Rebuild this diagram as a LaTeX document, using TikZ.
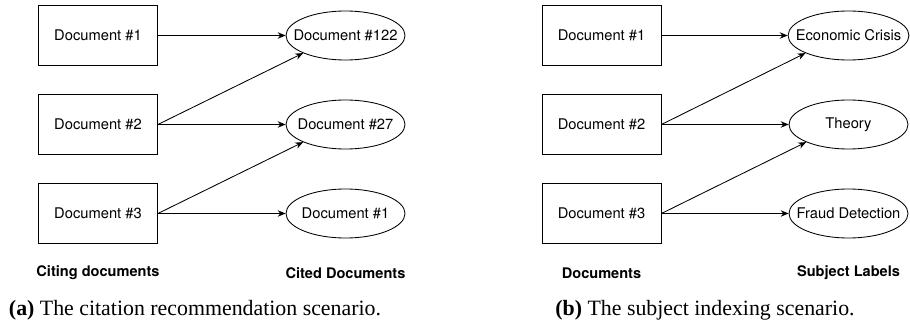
\documentclass[tikz,border=0pt]{standalone}
\usepackage{fontspec}
\setmainfont{Liberation Serif}
\setsansfont{TeX Gyre Heros}
\usetikzlibrary{arrows.meta,shapes.geometric}
\tikzset{
    doc box/.style={draw, line width=0.6pt, minimum width=83.3pt,
                    minimum height=41.6pt, inner sep=1pt,
                    font=\sffamily\fontsize{10.3}{12}\selectfont},
    doc oval/.style={doc box, ellipse, minimum height=34.3pt,
                     inner xsep=-7pt, inner ysep=0pt},
    col title/.style={font=\sffamily\bfseries\fontsize{10.2}{12}\selectfont},
    sub caption/.style={font=\fontsize{15.3}{18}\selectfont},
    link/.style={-{Stealth[length=5.5pt,width=4.5pt]}, line width=0.6pt},
}
\begin{document}
\begin{tikzpicture}[x=0.7pt, y=0.7pt]
    \useasboundingbox (0,0) rectangle (910,325);
    % (a) citation recommendation
    \node[doc box]  (a1) at (98, 289.5) {Document \#1};
    \node[doc box]  (a2) at (98, 200.5) {Document \#2};
    \node[doc box]  (a3) at (98, 111.5) {Document \#3};
    \node[doc oval] (c1) at (345.5, 289.5) {Document \#122};
    \node[doc oval] (c2) at (345.5, 200.5) {Document \#27};
    \node[doc oval] (c3) at (345.5, 111.5) {Document \#1};
    \node[col title] (ta) at (98, 52) {Citing documents};
    \node[col title] (tc) at (345.5, 52) {Cited Documents};
    \node[sub caption] (capa) at (195, 15) {\textbf{(a)} The citation recommendation scenario.};
    \draw[link] (a1.east) -- (c1.west);
    \draw[link] (a2.east) -- (c1.south west);
    \draw[link] (a2.east) -- (c2.west);
    \draw[link] (a3.east) -- (c2.south west);
    \draw[link] (a3.east) -- (c3.west);
    % (b) subject indexing
    \node[doc box]  (b1) at (601.5, 289.5) {Document \#1};
    \node[doc box]  (b2) at (601.5, 200.5) {Document \#2};
    \node[doc box]  (b3) at (601.5, 111.5) {Document \#3};
    \node[doc oval] (s1) at (848.5, 289.5) {Economic Crisis};
    \node[doc oval] (s2) at (848.5, 200.5) {Theory};
    \node[doc oval] (s3) at (848.5, 111.5) {Fraud Detection};
    \node[col title] (tb) at (601.5, 52) {Documents};
    \node[col title] (ts) at (848.5, 52) {Subject Labels};
    \node[sub caption] (capb) at (705, 15) {\textbf{(b)} The subject indexing scenario.};
    \draw[link] (b1.east) -- (s1.west);
    \draw[link] (b2.east) -- (s1.south west);
    \draw[link] (b2.east) -- (s2.west);
    \draw[link] (b3.east) -- (s2.south west);
    \draw[link] (b3.east) -- (s3.west);
\end{tikzpicture}
\end{document}
